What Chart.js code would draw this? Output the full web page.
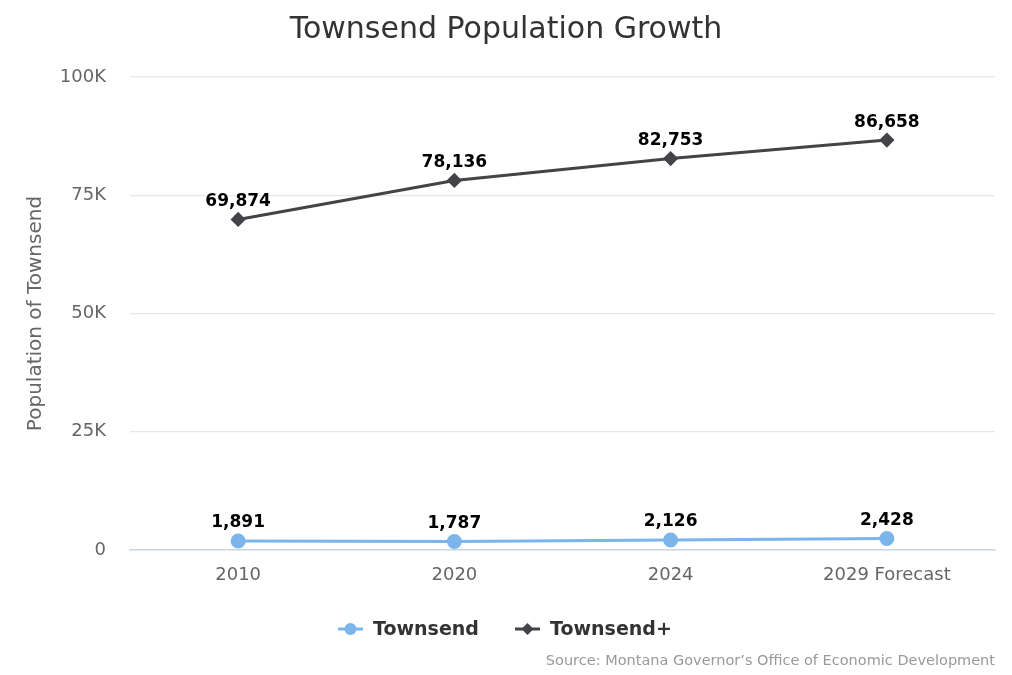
<!DOCTYPE html>
<html>
<head>
<meta charset="utf-8">
<script src="https://cdn.jsdelivr.net/npm/chart.js@4/dist/chart.umd.min.js"></script>
<style>
  html, body { margin: 0; padding: 0; background: #fff; }
  #wrap { position: relative; width: 1012px; height: 675px; }
</style>
</head>
<body>
<div id="wrap"><canvas id="chartCanvas"></canvas></div>
<script>
const years = ["2010", "2020", "2024", "2029 Forecast"];
const townsend = [1891, 1787, 2126, 2428];
const townsendPlus = [69874, 78136, 82753, 86658];
const yTicks = [0, 25000, 50000, 75000, 100000];
const seriesNames = ["Townsend", "Townsend+"];
const sourceText = "Source: Montana Governor\u2019s Office of Economic Development";

const FONT = "'DejaVu Sans', 'Lucida Grande', sans-serif";

// value labels above each point
const pointLabels = {
  id: "pointLabels",
  afterDatasetsDraw(chart) {
    const ctx = chart.ctx;
    ctx.save();
    ctx.font = "bold 17px " + FONT;
    ctx.textAlign = "center";
    ctx.textBaseline = "middle";
    chart.data.datasets.forEach((ds, i) => {
      chart.getDatasetMeta(i).data.forEach((pt, j) => {
        const txt = ds.data[j].toLocaleString("en-US");
        ctx.lineWidth = 3;
        ctx.strokeStyle = "#fff";
        ctx.lineJoin = "round";
        ctx.strokeText(txt, pt.x, pt.y - 18);
        ctx.fillStyle = "#000";
        ctx.fillText(txt, pt.x, pt.y - 18);
      });
    });
    ctx.restore();
  }
};

// highcharts-like legend and source credit
const legendAndCredit = {
  id: "legendAndCredit",
  afterDraw(chart) {
    const ctx = chart.ctx;
    ctx.save();
    const y = 629;
    const items = [
      { x: 338, ds: chart.data.datasets[0] },
      { x: 515, ds: chart.data.datasets[1] }
    ];
    items.forEach(it => {
      ctx.strokeStyle = it.ds.borderColor;
      ctx.lineWidth = 3;
      ctx.beginPath();
      ctx.moveTo(it.x, y);
      ctx.lineTo(it.x + 25, y);
      ctx.stroke();
      ctx.fillStyle = it.ds.borderColor;
      const cx = it.x + 12.5;
      ctx.beginPath();
      if (it.ds.pointStyle === "rectRot") {
        ctx.moveTo(cx, y - 6); ctx.lineTo(cx + 6, y); ctx.lineTo(cx, y + 6); ctx.lineTo(cx - 6, y);
        ctx.closePath();
      } else {
        ctx.arc(cx, y, 6, 0, Math.PI * 2);
      }
      ctx.fill();
      ctx.fillStyle = "#333";
      ctx.font = "bold 19px " + FONT;
      ctx.textAlign = "left";
      ctx.textBaseline = "middle";
      ctx.fillText(it.ds.label, it.x + 35, y + 1);
    });
    ctx.font = "14.5px " + FONT;
    ctx.fillStyle = "#999";
    ctx.textAlign = "right";
    ctx.fillText(sourceText, 995, 661);
    ctx.restore();
  }
};

new Chart(document.getElementById("chartCanvas"), {
  type: "line",
  data: {
    labels: years,
    datasets: [
      {
        label: seriesNames[0],
        data: townsend,
        borderColor: "#7cb5ec",
        backgroundColor: "#7cb5ec",
        borderWidth: 3,
        pointStyle: "circle",
        pointRadius: 6,
        pointHoverRadius: 6,
        tension: 0
      },
      {
        label: seriesNames[1],
        data: townsendPlus,
        borderColor: "#434348",
        backgroundColor: "#434348",
        borderWidth: 3,
        pointStyle: "rectRot",
        pointRadius: 5.5,
        pointHoverRadius: 5.5,
        tension: 0
      }
    ]
  },
  options: {
    responsive: true,
    maintainAspectRatio: false,
    animation: false,
    layout: { padding: { left: 17, right: 17, top: 0, bottom: 0 } },
    plugins: {
      legend: { display: false },
      tooltip: { enabled: false },
      title: {
        display: true,
        text: "Townsend Population Growth",
        color: "#333",
        font: { family: FONT, size: 30, weight: "normal" },
        padding: { top: 12, bottom: 29 }
      }
    },
    scales: {
      x: {
        offset: true,
        grid: { display: false, drawTicks: false },
        border: { display: true, color: "#ccd6eb", width: 1.5 },
        ticks: { color: "#666", font: { family: FONT, size: 18 }, padding: 15, maxRotation: 0 },
        afterFit(scale) { scale.height = 125; }
      },
      y: {
        min: 0,
        max: 100000,
        afterBuildTicks(scale) { scale.ticks = yTicks.map(v => ({ value: v })); },
        grid: { color: "#e6e6e6", drawTicks: false, lineWidth: 1.2 },
        border: { display: false },
        ticks: {
          color: "#666",
          font: { family: FONT, size: 18 },
          padding: 24,
          callback: v => v === 0 ? "0" : (v / 1000) + "K"
        },
        title: {
          display: true,
          text: "Population of Townsend",
          color: "#666",
          font: { family: FONT, size: 20 },
          padding: { top: 7, bottom: 0 }
        },
        afterFit(scale) { scale.width = 113; }
      }
    }
  },
  plugins: [pointLabels, legendAndCredit]
});
</script>
</body>
</html>
